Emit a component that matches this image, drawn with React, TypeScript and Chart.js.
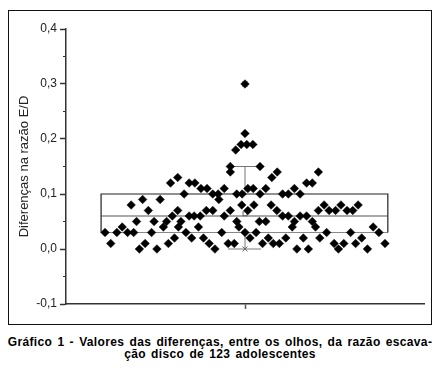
import React, { useEffect, useRef } from 'react';
import { Chart, registerables } from 'chart.js';
Chart.register(...registerables);

// Horizontal jitter position of each adolescent's point (0..1 across the plot)
const jitterX = [
  0.109, 0.125, 0.142, 0.157, 0.172, 0.189, 0.182, 0.197, 0.214, 0.230,
  0.205, 0.221, 0.239, 0.246, 0.254, 0.263, 0.272, 0.281, 0.286, 0.292,
  0.312, 0.344, 0.360, 0.330, 0.377, 0.394, 0.410, 0.425, 0.427, 0.442,
  0.477, 0.459, 0.459, 0.312, 0.297, 0.321, 0.314, 0.344, 0.358, 0.375,
  0.392, 0.410, 0.442, 0.459, 0.370, 0.335, 0.351, 0.384, 0.400, 0.416,
  0.435, 0.303, 0.453, 0.470, 0.477, 0.500, 0.500, 0.489, 0.505, 0.522,
  0.474, 0.542, 0.575, 0.590, 0.492, 0.508, 0.523, 0.542, 0.558, 0.605,
  0.621, 0.638, 0.654, 0.672, 0.491, 0.508, 0.525, 0.573, 0.589, 0.605,
  0.621, 0.638, 0.654, 0.672, 0.632, 0.483, 0.540, 0.558, 0.500, 0.514,
  0.531, 0.565, 0.549, 0.579, 0.596, 0.614, 0.663, 0.645, 0.677, 0.705,
  0.688, 0.705, 0.721, 0.735, 0.753, 0.768, 0.785, 0.801, 0.816, 0.688,
  0.697, 0.709, 0.728, 0.749, 0.761, 0.776, 0.795, 0.809, 0.826, 0.842,
  0.858, 0.874, 0.891,
];

// Difference in cup/disc ratio between eyes
const diffValues = [
  0.03, 0.01, 0.03, 0.04, 0.03, 0.03, 0.08, 0.05, 0.09, 0.07,
  0.00, 0.01, 0.03, 0.05, 0.00, 0.09, 0.04, 0.05, 0.01, 0.12,
  0.13, 0.12, 0.12, 0.10, 0.11, 0.11, 0.10, 0.10, 0.09, 0.11,
  0.10, 0.15, 0.14, 0.07, 0.06, 0.05, 0.04, 0.06, 0.06, 0.06,
  0.07, 0.07, 0.06, 0.07, 0.04, 0.03, 0.02, 0.02, 0.01, 0.00,
  0.03, 0.02, 0.01, 0.01, 0.05, 0.30, 0.21, 0.19, 0.19, 0.19,
  0.18, 0.15, 0.13, 0.14, 0.10, 0.11, 0.11, 0.10, 0.11, 0.10,
  0.10, 0.11, 0.10, 0.12, 0.08, 0.07, 0.08, 0.08, 0.07, 0.06,
  0.06, 0.05, 0.06, 0.06, 0.04, 0.04, 0.05, 0.05, 0.03, 0.02,
  0.03, 0.02, 0.01, 0.01, 0.01, 0.02, 0.02, 0.00, 0.00, 0.14,
  0.12, 0.07, 0.08, 0.07, 0.07, 0.08, 0.07, 0.07, 0.08, 0.05,
  0.04, 0.02, 0.03, 0.01, 0.00, 0.01, 0.03, 0.01, 0.02, 0.00,
  0.04, 0.03, 0.01,
];

// Box plot summary
const boxQuartiles = [0.03, 0.06, 0.10]; // Q1, median, Q3
const boxWhiskers = [0.0, 0.15];
const boxMean = [0.064];
const boxExtremes = [0.0, 0.30];

const yTickValues = [-0.1, 0.0, 0.1, 0.2, 0.3, 0.4];
const yMinorTickValues = [-0.05, 0.05, 0.15, 0.25, 0.35];
const yTitle = 'Diferenças na razão E/D';
const captionLines = [
  'Gráfico 1 - Valores das diferenças, entre os olhos, da razão escava-',
  'ção disco de 123 adolescentes',
];

const BOX_LEFT = 0.098;
const BOX_RIGHT = 0.899;
const BOX_CENTER = 0.5;
const CAP_LEFT = 0.453;
const CAP_RIGHT = 0.545;

const boxPlugin = {
  id: 'boxPlugin',
  beforeDatasetsDraw(chart: any) {
    const { ctx } = chart;
    const xs = chart.scales.x;
    const ys = chart.scales.y;
    const xl = xs.getPixelForValue(BOX_LEFT);
    const xr = xs.getPixelForValue(BOX_RIGHT);
    const xc = xs.getPixelForValue(BOX_CENTER);
    const cl = xs.getPixelForValue(CAP_LEFT);
    const cr = xs.getPixelForValue(CAP_RIGHT);
    const q1 = ys.getPixelForValue(boxQuartiles[0]);
    const med = ys.getPixelForValue(boxQuartiles[1]);
    const q3 = ys.getPixelForValue(boxQuartiles[2]);
    const wl = ys.getPixelForValue(boxWhiskers[0]);
    const wh = ys.getPixelForValue(boxWhiskers[1]);
    ctx.save();
    // whiskers
    ctx.strokeStyle = '#777';
    ctx.lineWidth = 1;
    ctx.beginPath();
    ctx.moveTo(xc, q3); ctx.lineTo(xc, wh);
    ctx.moveTo(cl, wh); ctx.lineTo(cr, wh);
    ctx.moveTo(xc, q1); ctx.lineTo(xc, wl);
    ctx.moveTo(cl, wl); ctx.lineTo(cr, wl);
    ctx.stroke();
    // Q1 line
    ctx.strokeStyle = '#888';
    ctx.lineWidth = 1.2;
    ctx.beginPath();
    ctx.moveTo(xl, q1); ctx.lineTo(xr, q1);
    ctx.stroke();
    // median
    ctx.strokeStyle = '#555';
    ctx.beginPath();
    ctx.moveTo(xl, med); ctx.lineTo(xr, med);
    ctx.stroke();
    // top and sides
    ctx.strokeStyle = '#222';
    ctx.beginPath();
    ctx.moveTo(xl, q1); ctx.lineTo(xl, q3); ctx.lineTo(xr, q3); ctx.lineTo(xr, q1);
    ctx.stroke();
    // mean square
    const my = ys.getPixelForValue(boxMean[0]);
    ctx.strokeStyle = '#666';
    ctx.lineWidth = 1;
    ctx.strokeRect(xc - 2, my - 2, 4, 4);
    // extremes crosses
    boxExtremes.forEach((v) => {
      const py = ys.getPixelForValue(v);
      ctx.beginPath();
      ctx.moveTo(xc - 2.5, py - 2.5); ctx.lineTo(xc + 2.5, py + 2.5);
      ctx.moveTo(xc + 2.5, py - 2.5); ctx.lineTo(xc - 2.5, py + 2.5);
      ctx.stroke();
    });
    ctx.restore();
  },
  afterDraw(chart: any) {
    const { ctx } = chart;
    const ys = chart.scales.y;
    const left = chart.chartArea.left;
    ctx.save();
    ctx.strokeStyle = '#333';
    ctx.lineWidth = 1.2;
    ctx.beginPath();
    yMinorTickValues.forEach((v) => {
      const py = ys.getPixelForValue(v);
      ctx.moveTo(left - 3, py); ctx.lineTo(left, py);
    });
    ctx.stroke();
    ctx.restore();
  },
};

export default function App() {
  const ref = useRef<HTMLCanvasElement | null>(null);
  useEffect(() => {
    if (!ref.current) return;
    const chart = new Chart(ref.current, {
      type: 'scatter',
      data: {
        datasets: [
          {
            data: jitterX.map((x, i) => ({ x, y: diffValues[i] })),
            pointStyle: 'rectRot',
            pointRadius: 4.3,
            pointBackgroundColor: '#000',
            pointBorderColor: '#000',
            pointBorderWidth: 0.5,
          },
        ],
      },
      options: {
        animation: false,
        responsive: true,
        maintainAspectRatio: false,
        layout: { padding: { left: 0, top: 29, right: 16, bottom: 0 } },
        plugins: { legend: { display: false }, tooltip: { enabled: false } },
        scales: {
          x: {
            type: 'linear',
            min: 0,
            max: 1,
            afterBuildTicks: (s: any) => { s.ticks = [{ value: 0.5 }]; },
            afterFit: (s: any) => { s.height = 26; },
            ticks: { callback: () => '', font: { size: 1 } },
            grid: { display: true, drawOnChartArea: false, drawTicks: true, tickLength: 5, tickColor: '#555', tickWidth: 1.5 },
            border: { display: true, color: '#333', width: 1.5 },
          },
          y: {
            min: -0.1,
            max: 0.4,
            afterBuildTicks: (s: any) => { s.ticks = yTickValues.map((v) => ({ value: v })); },
            afterFit: (s: any) => { s.width = 66; },
            ticks: {
              padding: 3,
              color: '#222',
              font: { family: 'Liberation Sans', size: 12 },
              callback: (v: any) => Number(v).toFixed(1).replace('.', ','),
            },
            grid: { display: true, drawOnChartArea: false, drawTicks: true, tickLength: 6, tickColor: '#333', tickWidth: 1.5 },
            border: { display: true, color: '#333', width: 1.5 },
            title: {
              display: true,
              text: yTitle,
              color: '#222',
              font: { family: 'Liberation Sans', size: 13 },
              padding: { top: 17, bottom: 0 },
            },
          },
        },
      },
      plugins: [boxPlugin],
    } as any);
    return () => chart.destroy();
  }, []);

  return (
    <div style={{ position: 'fixed', left: 0, top: 0, width: 440, height: 370, background: '#fff' }}>
      <div
        style={{
          position: 'absolute', left: 8, top: 10, width: 424, height: 315,
          border: '1.5px solid #111', boxSizing: 'border-box',
        }}
      />
      <div style={{ position: 'absolute', left: 0, top: 0, width: 440, height: 330 }}>
        <canvas ref={ref} />
      </div>
      <div
        style={{
          position: 'absolute', left: 0, top: 337, width: 440, textAlign: 'center',
          fontFamily: 'Liberation Sans', fontWeight: 'bold', fontSize: 12, lineHeight: '11.5px',
          letterSpacing: '0.35px', wordSpacing: '1.5px',
          color: '#000', whiteSpace: 'nowrap',
        }}
      >
        {captionLines.map((l, i) => (
          <div key={i}>{l}</div>
        ))}
      </div>
    </div>
  );
}
